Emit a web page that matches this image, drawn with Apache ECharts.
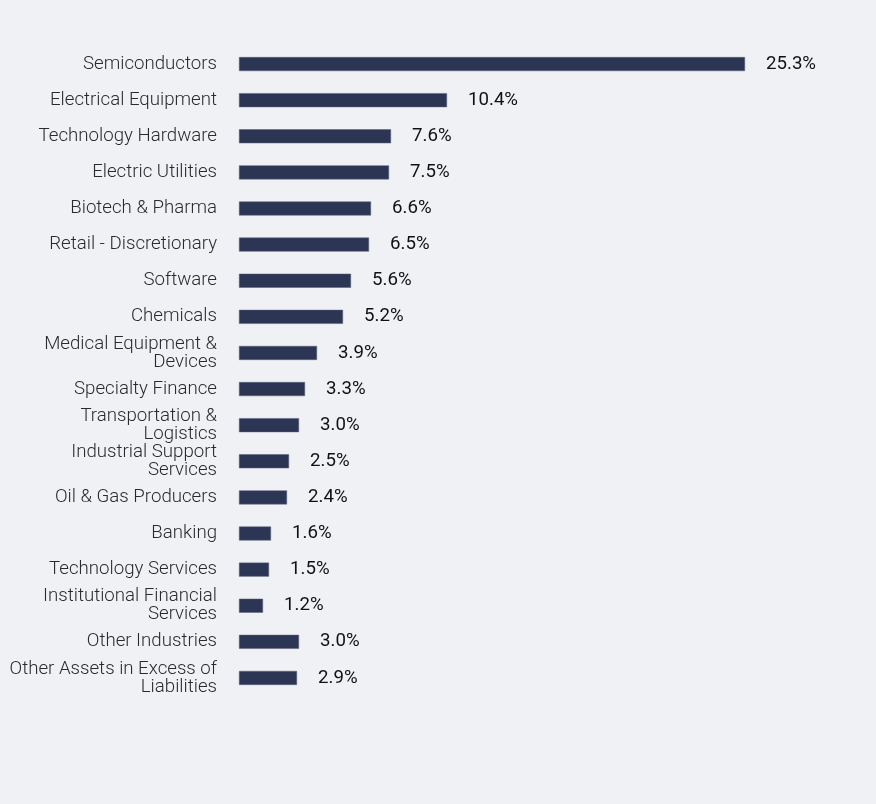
<!DOCTYPE html>
<html><head><meta charset="utf-8">
<script src="https://cdn.jsdelivr.net/npm/echarts@6/dist/echarts.min.js"></script>
<style>html,body{margin:0;padding:0;background:#f0f1f4;}#c{width:876px;height:804px;}</style>
</head><body><div id="c"></div>
<script>
const categories = ["Semiconductors","Electrical Equipment","Technology Hardware","Electric Utilities","Biotech & Pharma","Retail - Discretionary","Software","Chemicals","Medical Equipment &\nDevices","Specialty Finance","Transportation &\nLogistics","Industrial Support\nServices","Oil & Gas Producers","Banking","Technology Services","Institutional Financial\nServices","Other Industries","Other Assets in Excess of\nLiabilities"];
const values = [25.3,10.4,7.6,7.5,6.6,6.5,5.6,5.2,3.9,3.3,3.0,2.5,2.4,1.6,1.5,1.2,3.0,2.9];
const chart = echarts.init(document.getElementById('c'));
chart.setOption({
  backgroundColor:'#f0f1f4',
  animation:false,
  grid:{left:239,top:46,width:600,height:650,containLabel:false},
  xAxis:{type:'value',min:0,max:30,show:false},
  yAxis:{type:'category',inverse:true,data:categories,
    axisLine:{show:false},axisTick:{show:false},
    axisLabel:{margin:22,fontFamily:'Roboto',fontWeight:300,fontSize:18.67,color:'#2a2a2a',lineHeight:18,align:'right'}},
  series:[{type:'bar',data:values,barWidth:14,
    itemStyle:{color:'#2c3654',borderColor:'#56607a',borderWidth:0.5},
    label:{show:true,position:'right',distance:21,fontFamily:'Roboto',fontSize:18.67,color:'#111',formatter:p=>p.value.toFixed(1)+'%'}}]
});
</script></body></html>
